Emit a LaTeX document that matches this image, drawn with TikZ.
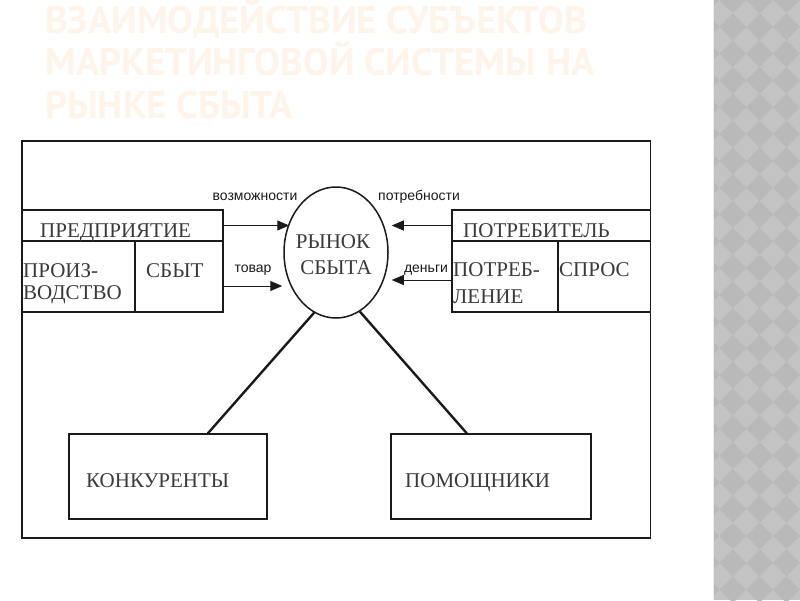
\documentclass[tikz,border=0pt]{standalone}
\usepackage{fontspec}
\setmainfont{Liberation Serif}
\newfontfamily\lblfont{Liberation Sans}
\newfontfamily\ttlfont{PT Sans}
\usetikzlibrary{shapes.geometric,arrows.meta,calc}
\definecolor{ttlcol}{HTML}{FFF4EA}
\definecolor{panelA}{HTML}{C3C3C3}
\definecolor{panelB}{HTML}{B9B9B9}
\definecolor{ink}{HTML}{1A1A1A}
\definecolor{boxtext}{HTML}{3A3A3A}
\begin{document}
\begin{tikzpicture}[x=1pt,y=-1pt,
  cell/.style={draw=ink, line width=1.3pt, inner sep=0pt},
  boxtxt/.style={inner sep=0pt, text=boxtext, font=\fontsize{21}{23}\selectfont, anchor=base west},
  lbl/.style={inner sep=0pt, text=ink, font=\lblfont\fontsize{14}{16}\selectfont, anchor=base},
  ttl/.style={inner sep=0pt, text=ttlcol, font=\ttlfont\bfseries\fontsize{38.5}{42}\selectfont, anchor=base west},
  arr/.style={draw=ink, line width=1pt, -{Triangle[length=12pt,width=10pt]}},
  link/.style={draw=ink, line width=2.4pt}]
\useasboundingbox (0,0) rectangle (800,600);
\fill[white] (0,0) rectangle (800,600);
% decorative side panel
\begin{scope}
  \clip (713,0) rectangle (800,600);
  \fill[panelA] (713,0) rectangle (800,600);
  \foreach \i in {0,...,4}{
    \foreach \j in {0,...,23}{
      \pgfmathsetmacro\cx{706+26.8*\i}
      \pgfmathsetmacro\cy{26.8*\j}
      \fill[panelB] (\cx-13.4,\cy) -- (\cx,\cy-13.4) -- (\cx+13.4,\cy) -- (\cx,\cy+13.4) -- cycle;
    }
  }
\end{scope}
\draw[white!85!gray, line width=1.5pt] (713.5,0) -- (713.5,600);
% title
\node[ttl] (t1) at (45,33) {ВЗАИМОДЕЙСТВИЕ СУБЪЕКТОВ};
\node[ttl] (t2) at (45,75) {МАРКЕТИНГОВОЙ СИСТЕМЫ НА};
\node[ttl] (t3) at (45,118) {РЫНКЕ СБЫТА};
% frame
\node[cell, minimum width=628.5pt, minimum height=397pt] (frame) at (336.25,339.5) {};
% left block
\node[cell, minimum width=201pt, minimum height=31pt] (ent) at (122.5,225.5) {};
\node[cell, minimum width=113pt, minimum height=71pt] (prod) at (78.5,276.5) {};
\node[cell, minimum width=88pt, minimum height=71pt] (sbyt) at (179,276.5) {};
% right block
\node[cell, minimum width=198.5pt, minimum height=31pt] (cons) at (551.25,225.5) {};
\node[cell, minimum width=106pt, minimum height=71pt] (potr) at (505,276.5) {};
\node[cell, minimum width=92.5pt, minimum height=71pt] (spros) at (604.25,276.5) {};
% market
\node[draw=ink, line width=1.5pt, ellipse, inner sep=0pt, minimum width=104pt, minimum height=131pt] (market) at (336,252.5) {};
% bottom boxes
\node[cell, minimum width=198pt, minimum height=85pt] (konk) at (168,476.5) {};
\node[cell, minimum width=200pt, minimum height=85pt] (pom) at (491,476.5) {};
% arrows
\draw[arr] (ent.east) -- ($(ent.east -| market.west)+(6,0)$);
\draw[arr] ($(sbyt.east)+(0,9.5)$) -- ($(sbyt.east -| market.west)+(-1,9.5)$);
\draw[arr] (cons.west) -- ($(cons.west -| market.east)+(3,0)$);
\draw[arr] ($(potr.west)+(0,3.5)$) -- ($(potr.west -| market.east)+(3,3.5)$);
% links
\draw[link] (market.250) -- ($(konk.north west)!0.7!(konk.north east)$);
\draw[link] (market.292) -- ($(pom.north west)!0.38!(pom.north east)$);
% texts
\node[boxtxt] (entT) at (40,237) {ПРЕДПРИЯТИЕ};
\node[boxtxt] (prodT1) at (23,277) {ПРОИЗ-};
\node[boxtxt] (prodT2) at (23,299) {ВОДСТВО};
\node[boxtxt] (sbytT) at (146,277) {СБЫТ};
\node[boxtxt] (consT) at (463,237) {ПОТРЕБИТЕЛЬ};
\node[boxtxt] (potrT1) at (453,276) {ПОТРЕБ-};
\node[boxtxt] (potrT2) at (453,303) {ЛЕНИЕ};
\node[boxtxt] (sprosT) at (559,276) {СПРОС};
\node[boxtxt, anchor=base] (mT1) at (333,248) {РЫНОК};
\node[boxtxt, anchor=base] (mT2) at (336,274) {СБЫТА};
\node[boxtxt] (konkT) at (86,487) {КОНКУРЕНТЫ};
\node[boxtxt] (pomT) at (405,487) {ПОМОЩНИКИ};
% labels
\node[lbl] (l1) at (255,200) {возможности};
\node[lbl] (l2) at (419,200) {потребности};
\node[lbl] (l3) at (253,272) {товар};
\node[lbl] (l4) at (426,272) {деньги};
\end{tikzpicture}
\end{document}
